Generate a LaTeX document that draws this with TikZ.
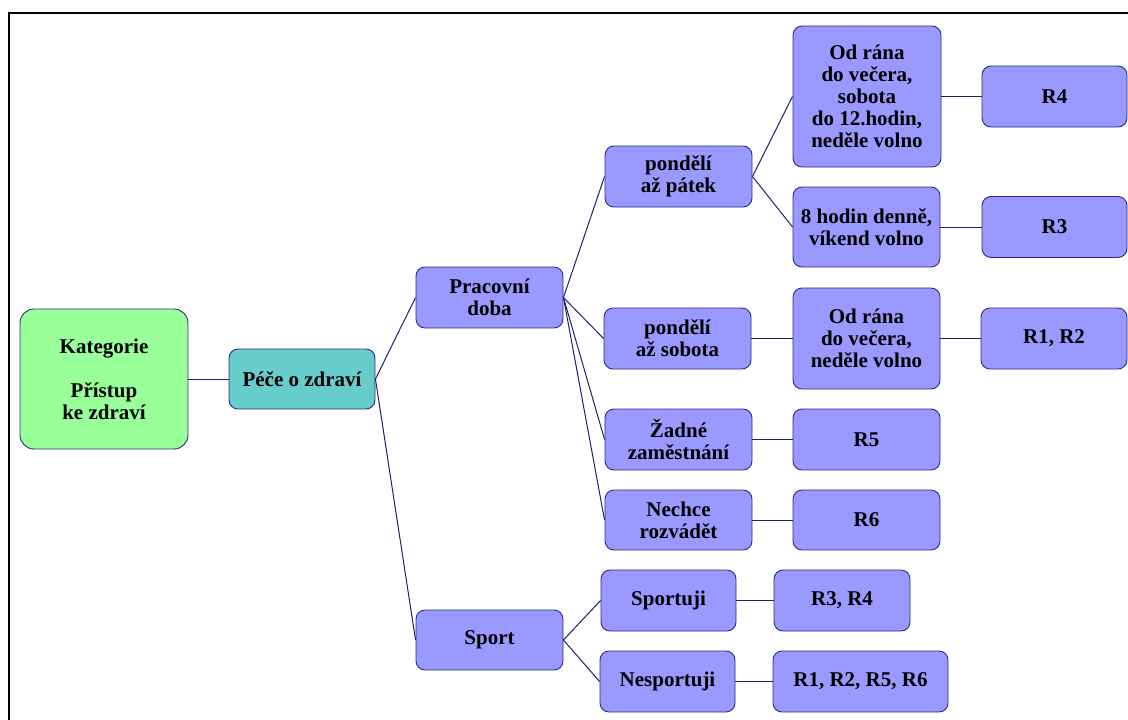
\documentclass[tikz,border=0pt]{standalone}
\usepackage{fontspec}
\setmainfont{Liberation Serif}[BoldFont={Liberation Serif Bold}]
\newfontfamily\labelfont{Liberation Serif Bold}
\definecolor{boxblue}{HTML}{9999FF}
\definecolor{boxgreen}{HTML}{99FF99}
\definecolor{boxteal}{HTML}{66CCCC}
\definecolor{edgenavy}{HTML}{2B2B85}
\definecolor{linknavy}{HTML}{20206E}
\begin{document}
\begin{tikzpicture}[x=1pt,y=-1pt,
  box/.style={draw=edgenavy, fill=boxblue, line width=0.9pt, rounded corners=9pt,
    align=center, inner sep=0pt, font=\labelfont\fontsize{21}{22}\selectfont},
  link/.style={draw=linknavy, line width=1pt}]
\useasboundingbox (0,0) rectangle (1128,720);
% outer frame
\draw[line width=2.4pt] (9,720) -- (9,13) -- (1128,13);

% root and first level
\node[box, fill=boxgreen, rounded corners=14pt, minimum width=168pt, minimum height=140pt] (kat) at (104,379)
  {Kategorie\\[22pt]Přístup\\ke zdraví};
\node[box, fill=boxteal, minimum width=146pt, minimum height=60pt] (pece) at (302,379) {Péče o zdraví};
\node[box, minimum width=147pt, minimum height=61pt] (prac) at (489.5,297.5) {Pracovní\\doba};
\node[box, minimum width=147pt, minimum height=60pt] (sport) at (489.5,640) {Sport};

% working hours branch
\node[box, minimum width=147pt, minimum height=61pt] (pp) at (678.5,176.5) {pondělí\\až pátek};
\node[box, minimum width=147pt, minimum height=61pt] (ps) at (677.5,338.5) {pondělí\\až sobota};
\node[box, minimum width=147pt, minimum height=61pt] (zad) at (678.5,439.5) {Žadné\\zaměstnání};
\node[box, minimum width=147pt, minimum height=60pt] (nech) at (678.5,520) {Nechce\\rozvádět};

\node[box, minimum width=148pt, minimum height=141pt] (od1) at (867,96.5)
  {Od rána\\do večera,\\sobota\\do 12.hodin,\\neděle volno};
\node[box, minimum width=147pt, minimum height=80pt] (hod8) at (866.5,227) {8 hodin denně,\\víkend volno};
\node[box, minimum width=147pt, minimum height=101pt] (od2) at (866.5,338.5) {Od rána\\do večera,\\neděle volno};
\node[box, minimum width=147pt, minimum height=61pt] (r5) at (866.5,439.5) {R5};
\node[box, minimum width=147pt, minimum height=60pt] (r6) at (866.5,520) {R6};

\node[box, minimum width=145pt, minimum height=61pt] (r4) at (1054.5,96.5) {R4};
\node[box, minimum width=145pt, minimum height=61pt] (r3) at (1054.5,227) {R3};
\node[box, minimum width=146pt, minimum height=61pt] (r12) at (1054,338.5) {R1, R2};

% sport branch
\node[box, minimum width=135pt, minimum height=61pt] (spt) at (668.5,600.5) {Sportuji};
\node[box, minimum width=135pt, minimum height=61pt] (nspt) at (667.5,681.5) {Nesportuji};
\node[box, minimum width=136pt, minimum height=61pt] (r34) at (842,600.5) {R3, R4};
\node[box, minimum width=175pt, minimum height=61pt] (r1256) at (860.5,681.5) {R1, R2, R5, R6};

% connectors
\draw[link] (kat.east) -- (pece.west);
\draw[link] (pece.east) -- (prac.west);
\draw[link] (pece.east) -- (sport.west);
\draw[link] (prac.east) -- (pp.west);
\draw[link] (prac.east) -- (ps.west);
\draw[link] (prac.east) -- (zad.west);
\draw[link] (prac.east) -- (nech.west);
\draw[link] (pp.east) -- (od1.west);
\draw[link] (pp.east) -- (hod8.west);
\draw[link] (ps.east) -- (od2.west);
\draw[link] (zad.east) -- (r5.west);
\draw[link] (nech.east) -- (r6.west);
\draw[link] (od1.east) -- (r4.west);
\draw[link] (hod8.east) -- (r3.west);
\draw[link] (od2.east) -- (r12.west);
\draw[link] (sport.east) -- (spt.west);
\draw[link] (sport.east) -- (nspt.west);
\draw[link] (spt.east) -- (r34.west);
\draw[link] (nspt.east) -- (r1256.west);
\end{tikzpicture}
\end{document}
